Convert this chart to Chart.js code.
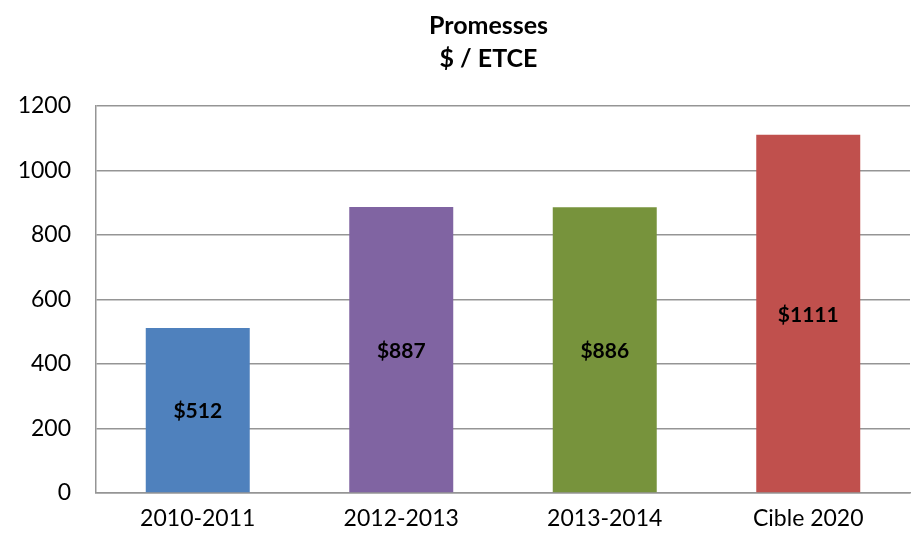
<!DOCTYPE html>
<html>
<head>
<meta charset="utf-8">
<script src="https://cdn.jsdelivr.net/npm/chart.js@4"></script>
<style>
  html, body { margin: 0; padding: 0; background: #ffffff; }
  #wrap { width: 913px; height: 539px; position: relative; }
</style>
</head>
<body>
<div id="wrap"><canvas id="c" width="913" height="539"></canvas></div>
<script>
const titleLines = ['Promesses', '$ / ETCE'];
const categories = ['2010-2011', '2012-2013', '2013-2014', 'Cible 2020'];
const values = [512, 887, 886, 1111];
const barColors = ['#4F81BD', '#8064A2', '#77933C', '#C0504D'];
const yMin = 0, yMax = 1200, yStep = 200;

const FONT = 'Lato, "Open Sans", sans-serif';
const GRID = '#959595';

const valueLabels = {
  id: 'valueLabels',
  afterDatasetsDraw(chart) {
    const ctx = chart.ctx;
    const meta = chart.getDatasetMeta(0);
    ctx.save();
    ctx.font = 'bold 21px ' + FONT;
    ctx.fillStyle = '#000000';
    ctx.textAlign = 'center';
    ctx.textBaseline = 'middle';
    meta.data.forEach((bar, i) => {
      const y = (bar.y + bar.base) / 2 + 1.5;
      ctx.fillText('$' + values[i], bar.x, y);
    });
    ctx.restore();
  }
};

const shiftTitle = {
  id: 'shiftTitle',
  afterLayout(chart) {
    if (chart.titleBlock) {
      chart.titleBlock.left = 64;
      chart.titleBlock.right = 913;
    }
  }
};

new Chart(document.getElementById('c'), {
  type: 'bar',
  data: {
    labels: categories,
    datasets: [{
      data: values,
      backgroundColor: barColors,
      borderWidth: 0,
      barPercentage: 0.511,
      categoryPercentage: 1.0
    }]
  },
  options: {
    responsive: false,
    animation: false,
    devicePixelRatio: 1,
    layout: { padding: { left: 0, right: 3, top: 0, bottom: 0 } },
    plugins: {
      legend: { display: false },
      tooltip: { enabled: false },
      title: {
        display: true,
        text: titleLines,
        color: '#000000',
        font: { family: FONT, size: 25, weight: 'bold', lineHeight: 1.32 },
        padding: { top: 9, bottom: 31 }
      }
    },
    scales: {
      x: {
        grid: { display: false, drawTicks: false },
        border: { display: true, color: GRID, width: 1.5 },
        ticks: { color: '#000000', font: { family: FONT, size: 23 }, padding: 12, maxRotation: 0 },
        afterFit(scale) { scale.height = 46; }
      },
      y: {
        min: yMin,
        max: yMax,
        grid: { color: GRID, lineWidth: 1.5, drawTicks: false },
        border: { display: true, color: GRID, width: 1.5 },
        ticks: {
          stepSize: yStep, color: '#000000', font: { family: FONT, size: 23 }, padding: 25,
          callback: (v) => String(v)
        },
        afterFit(scale) { scale.width = 96; }
      }
    }
  },
  plugins: [valueLabels, shiftTitle]
});
</script>
</body>
</html>
